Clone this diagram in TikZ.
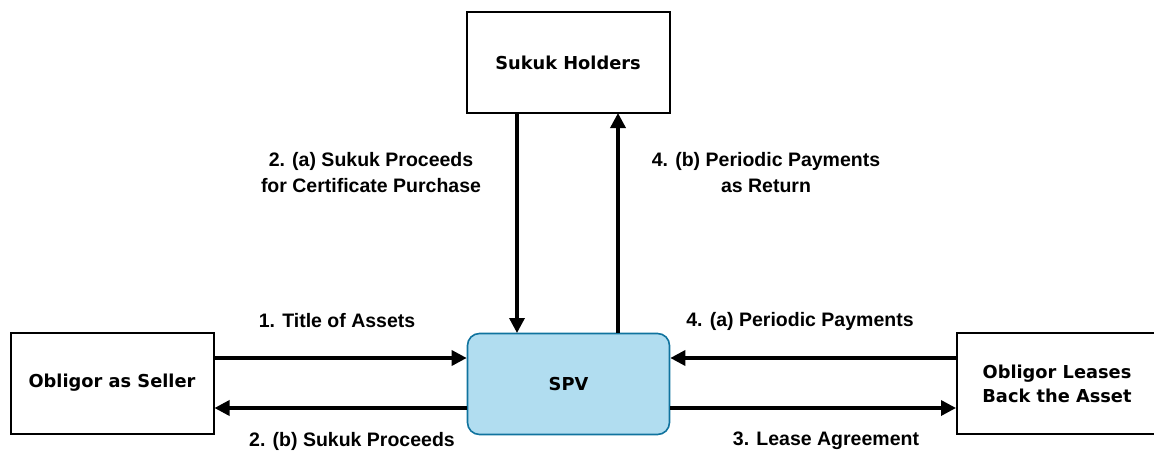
\documentclass[tikz,border=0pt]{standalone}
\usepackage{fontspec}
\setmainfont{Liberation Sans}
\newfontfamily\boxfont{DejaVu Sans}
\usetikzlibrary{arrows.meta}
\definecolor{spvfill}{HTML}{B1DDF0}
\definecolor{spvline}{HTML}{10739E}
\begin{document}
\begin{tikzpicture}[x=1pt,y=-1pt,
  party/.style={draw=black,line width=2pt,fill=white,minimum width=203pt,minimum height=101pt,
    inner sep=0pt,align=center,font=\boxfont\bfseries\fontsize{17.8}{24}\selectfont},
  spvbox/.style={draw=spvline,line width=1.6pt,fill=spvfill,rounded corners=12pt,
    minimum width=202pt,minimum height=101pt,inner sep=0pt,
    font=\boxfont\bfseries\fontsize{17.8}{24}\selectfont},
  flow/.style={line width=3.4pt,-{Triangle[length=15pt,width=15pt]}},
  tag/.style={align=center,font=\bfseries\fontsize{19.5}{26}\selectfont,inner sep=0pt}]
\useasboundingbox (0,0) rectangle (1154,452);
% parties
\node[party] (holders) at (568,62.5) {Sukuk Holders};
\node[party] (seller) at (112,383) {Obligor as Seller};
\node[party,minimum width=200pt] (lessee) at (1057,383.5) {Obligor Leases\\Back the Asset};
\node[spvbox] (spv) at (568.5,384) {SPV};
% connection points on the boxes
\coordinate (hL) at (517,113);
\coordinate (hR) at (618,113);
\coordinate (sL) at (517,333);
\coordinate (sR) at (618,333);
% flows
\draw[flow] (hL) -- (sL);
\draw[flow] (sR) -- (hR);
\draw[flow] (seller.east |- 0,358) -- (spv.west |- 0,358);
\draw[flow] (spv.west |- 0,408) -- (seller.east |- 0,408);
\draw[flow] (lessee.west |- 0,358) -- (spv.east |- 0,358);
\draw[flow] (spv.east |- 0,408) -- (lessee.west |- 0,408);
% labels
\node[tag] (l2a) at (371,173) {2. (a) Sukuk Proceeds\\for Certificate Purchase};
\node[tag] (l4b) at (766,173) {4. (b) Periodic Payments\\as Return};
\node[tag] (l1) at (337,321) {1. Title of Assets};
\node[tag] (l4a) at (800,321) {4. (a) Periodic Payments};
\node[tag] (l2b) at (352,441) {2. (b) Sukuk Proceeds};
\node[tag] (l3) at (826,441) {3. Lease Agreement};
\end{tikzpicture}
\end{document}
